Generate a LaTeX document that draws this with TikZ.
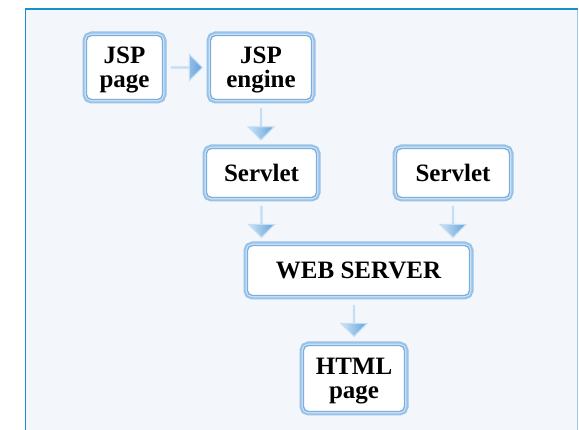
\documentclass[tikz,border=0pt]{standalone}
\usepackage{fontspec}
\setmainfont{Liberation Serif}
\usetikzlibrary{shapes.arrows}

\definecolor{panelfill}{RGB}{243,247,251}
\definecolor{panelline}{RGB}{27,142,208}
\definecolor{paneledge}{RGB}{160,200,228}
\definecolor{boxouter}{RGB}{152,194,232}
\definecolor{boxstripe}{RGB}{210,228,245}
\definecolor{boxline}{RGB}{122,175,224}
\definecolor{arrowtop}{RGB}{208,228,245}
\definecolor{arrowbot}{RGB}{98,162,220}
\definecolor{arrowedge}{RGB}{196,222,242}

\tikzset{
  stage/.style={rounded corners=5pt, fill=white, draw=boxline, line width=1.3pt,
    preaction={draw=boxouter, line width=8pt},
    preaction={draw=boxstripe, line width=3.6pt},
    align=center, inner sep=0pt,
    font=\fontsize{25}{24}\selectfont\bfseries},
  tall/.style={stage, text depth=0pt},
  flow/.style={single arrow, draw=arrowedge, line width=1pt,
    left color=arrowtop, right color=arrowbot,
    minimum width=26pt, single arrow head extend=9pt,
    single arrow tip angle=90, inner sep=0pt, minimum height=#1,
    sloped, allow upside down},
  flow/.default=31pt
}

\begin{document}
\begin{tikzpicture}[x=1pt,y=-1pt]
        \useasboundingbox (0,0) rectangle (579,430);
        % panel behind the chart
        \fill[panelfill] (25.5,9) rectangle (577.5,430);
        \draw[paneledge, line width=1pt] (577.5,9) -- (577.5,430);
        \draw[panelline, line width=1.6pt] (25.5,430) -- (25.5,9) -- (578,9);

        \node[tall, minimum width=76pt, minimum height=64pt] (jsp) at (124.5,67.5) {JSP\\page};
        \node[tall, minimum width=101pt, minimum height=64pt] (engine) at (261,67.5) {JSP\\engine};
        \node[stage, minimum width=110pt, minimum height=49pt] (servletA) at (261.5,173) {Servlet};
        \node[stage, minimum width=113pt, minimum height=49pt] (servletB) at (453,173) {Servlet};
        \node[stage, minimum width=222pt, minimum height=50pt] (server) at (358.5,270.5) {WEB SERVER};
        \node[tall, minimum width=101pt, minimum height=66pt] (html) at (354,378.5) {HTML\\page};

        \path (jsp) -- node[flow] {} (engine);
        \path (engine) -- node[flow] {} (engine |- servletA.north);
        \path (servletA.south) -- node[flow] {} (servletA.south |- server.north);
        \path (servletB.south) -- node[flow] {} (servletB.south |- server.north);
        \path (html |- server.south) -- node[flow] {} (html.north);

      \end{tikzpicture}
\end{document}
